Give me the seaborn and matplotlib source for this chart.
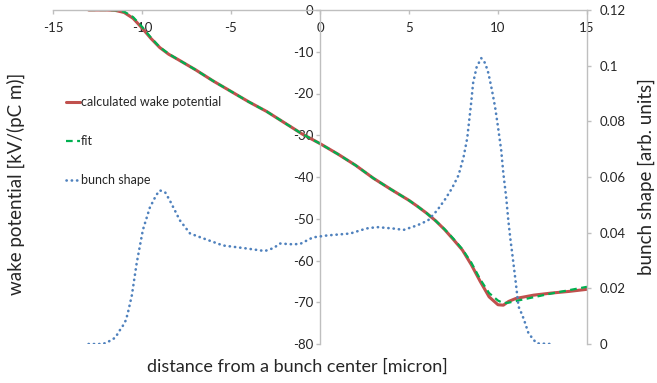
import numpy as np
import pandas as pd
import matplotlib
matplotlib.use("Agg")
import matplotlib.pyplot as plt
import seaborn as sns

# --- data ---
wake_x = [-13, -12, -11.5, -11, -10.5, -10, -9.5, -9, -8.5, -8, -7, -6, -5, -4, -3, -2, -1,
          0, 1, 2, 3, 4, 5, 5.5, 6, 6.5, 7, 7.5, 8, 8.5, 9, 9.5, 10, 10.3, 10.6, 11, 12, 13, 14, 15]
wake_calc = [0, 0, -0.1, -0.6, -2.0, -4.3, -6.8, -9.0, -10.6, -11.8, -14.3, -17.0, -19.5, -22.0,
             -24.3, -27.0, -29.7, -32.0, -34.5, -37.2, -40.3, -43.0, -45.6, -47.1, -48.7, -50.5,
             -52.6, -55.0, -57.5, -61.0, -65.0, -68.7, -70.6, -70.7, -69.8, -69.1, -68.3, -67.8,
             -67.4, -66.9]
wake_fit = [0, 0, -0.05, -0.4, -1.7, -4.0, -6.6, -8.9, -10.5, -11.8, -14.3, -17.0, -19.5, -22.0,
            -24.3, -27.0, -29.7, -32.0, -34.5, -37.2, -40.3, -43.0, -45.6, -47.1, -48.7, -50.5,
            -52.5, -54.8, -57.3, -60.5, -64.5, -67.8, -69.6, -70.2, -70.1, -69.7, -68.8, -67.9,
            -67.1, -66.3]

bunch_x = [-13, -12.2, -12.0, -11.75, -11.5, -11.25, -11.08, -10.91, -10.8, -10.57, -10.3, -9.95,
           -9.56, -9.2, -9.0, -8.7, -8.44, -7.87, -7.3, -6.58, -5.45, -4.1, -3.1, -2.6, -2.25,
           -1.5, -1.1, -0.4, 0.4, 1.7, 2.6, 3.2, 4.1, 4.7, 5.45, 6.07, 6.58, 7.03, 7.42, 7.78,
           8.06, 8.27, 8.49, 8.6, 8.8, 9.06, 9.28, 9.46, 9.66, 9.84, 10.0, 10.18, 10.3, 10.46,
           10.58, 10.69, 10.8, 11.0, 11.15, 11.37, 11.53, 11.7, 11.98, 12.2, 13]
bunch_y = [0, 0, 0.0005, 0.0013, 0.0023, 0.0049, 0.0065, 0.0085, 0.011, 0.0175, 0.029, 0.041,
           0.049, 0.0535, 0.0552, 0.0545, 0.0516, 0.0444, 0.0397, 0.0380, 0.0354, 0.0343, 0.0334,
           0.0345, 0.0361, 0.0358, 0.0360, 0.0383, 0.0390, 0.0397, 0.0415, 0.0420, 0.0415,
           0.0410, 0.0426, 0.0444, 0.0480, 0.0520, 0.0560, 0.0606, 0.0670, 0.0739, 0.0865,
           0.0937, 0.0995, 0.1027, 0.1009, 0.0973, 0.0912, 0.0850, 0.0780, 0.0696, 0.0613,
           0.0527, 0.0444, 0.0380, 0.0325, 0.0220, 0.0135, 0.0103, 0.0074, 0.0041, 0.0016, 0.0002, 0]

x_ticks = [-15, -10, -5, 0, 5, 10, 15]
y_ticks = [0, -10, -20, -30, -40, -50, -60, -70, -80]
y2_ticks = [0, 0.02, 0.04, 0.06, 0.08, 0.1, 0.12]
y2_labels = ["0", "0.02", "0.04", "0.06", "0.08", "0.1", "0.12"]

wake_df = pd.DataFrame({"x": wake_x, "calc": wake_calc, "fit": wake_fit})
bunch_df = pd.DataFrame({"x": bunch_x, "y": bunch_y})

sns.set_theme(style="white")
plt.rcParams["font.family"] = ["Lato", "DejaVu Sans"]

GRAY = "#bfbfbf"
TXT = "#262626"

fig = plt.figure(figsize=(6.57, 3.83), dpi=100)
ax = fig.add_axes([53/657, 1-344/383, (587-53)/657, (344-10)/383])
ax2 = ax.twinx()

sns.lineplot(data=wake_df, x="x", y="calc", ax=ax, color="#C0504D", linewidth=2.2,
             label="calculated wake potential", legend=False)
sns.lineplot(data=wake_df, x="x", y="fit", ax=ax, color="#00B050", linewidth=1.6,
             linestyle=(0, (3, 2)), label="fit", legend=False)
sns.lineplot(data=bunch_df, x="x", y="y", ax=ax2, color="#4F81BD", linewidth=1.9,
             linestyle=(0, (0.1, 1.9)), label="bunch shape", legend=False)
for l in ax2.lines:
    l.set_dash_capstyle("round")

ax.set_xlim(-15, 15)
ax.set_ylim(-80, 0)
ax2.set_ylim(0, 0.12)

# spines
for s in ["top", "right"]:
    ax.spines[s].set_visible(False)
ax.spines["left"].set_position(("data", 0))
ax.spines["bottom"].set_position(("data", 0))
for s in ["left", "bottom"]:
    ax.spines[s].set_color(GRAY)
    ax.spines[s].set_linewidth(1.0)
for s in ["top", "left", "bottom"]:
    ax2.spines[s].set_visible(False)
ax2.spines["right"].set_color(GRAY)
ax2.spines["right"].set_linewidth(1.0)

ax.set_xticks(x_ticks)
ax.set_xticklabels([str(t) for t in x_ticks])
ax.set_yticks(y_ticks)
ax.set_yticklabels([str(t) for t in y_ticks])
ax2.set_yticks(y2_ticks)
ax2.set_yticklabels(y2_labels)

ax.tick_params(axis="x", direction="out", length=3, width=1, color=GRAY, pad=6,
               labelsize=9.5, labelcolor=TXT, bottom=True)
ax.tick_params(axis="y", direction="out", length=3, width=1, color=GRAY, pad=2,
               labelsize=9.5, labelcolor=TXT, left=True)
ax2.tick_params(axis="y", direction="out", length=3, width=1, color=GRAY, pad=6,
                labelsize=9.5, labelcolor=TXT, right=True)

ax.set_xlabel("distance from a bunch center [micron]", fontsize=13, color=TXT)
ax.xaxis.set_label_coords(0.457, -0.045)
ax.set_ylabel("wake potential [kV/(pC m)]", fontsize=13.5, color=TXT)
ax.yaxis.set_label_coords(-0.052, 0.48)
ax2.set_ylabel("bunch shape [arb. units]", fontsize=13.5, color=TXT)
ax2.yaxis.set_label_coords(1.094, 0.5)

h1, l1 = ax.get_legend_handles_labels()
h2, l2 = ax2.get_legend_handles_labels()
fig.legend(h1 + h2, l1 + l2, loc="upper left", bbox_to_anchor=(60/657, 1-90/383),
           frameon=False, fontsize=9, handlelength=1.1, handletextpad=0.05,
           labelspacing=2.15, labelcolor=TXT, borderpad=0)

fig.savefig("out.png", dpi=100)
